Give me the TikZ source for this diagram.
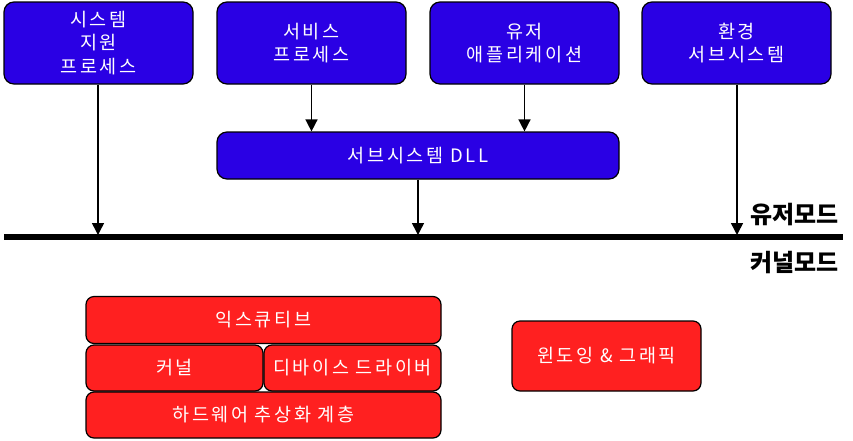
\documentclass[tikz,border=0pt]{standalone}
\usepackage{fontspec}
\setmainfont{Noto Sans CJK KR}
\newfontfamily\krtext[LetterSpace=14]{Noto Sans CJK KR}
\usetikzlibrary{arrows.meta}
\definecolor{boxblue}{RGB}{42,0,228}
\definecolor{boxred}{RGB}{255,32,32}
\tikzset{
  bluebox/.style={draw=black, line width=1.2pt, fill=boxblue, rounded corners=10pt, text=white, font=\krtext\fontsize{18.5}{23.5}\selectfont, align=center, inner sep=0pt},
  redbox/.style={draw=black, line width=1.2pt, fill=boxred, rounded corners=8pt, text=white, font=\krtext\fontsize{18.5}{23}\selectfont, align=center, inner sep=0pt},
  arr/.style={line width=1.5pt, -{Triangle[length=12pt,width=12pt]}},
  modelabel/.style={font=\fontsize{24}{24}\selectfont\bfseries, anchor=east, inner sep=0pt}
}
\begin{document}
\begin{tikzpicture}[x=1pt,y=-1pt]
\useasboundingbox (0,0) rectangle (853,440);
% blue boxes
\node[bluebox, minimum width=189pt, minimum height=82pt] (sp) at (98.5,43) {시스템\\지원\\프로세스};
\node[bluebox, minimum width=189pt, minimum height=82pt] (svc) at (311.5,43) {서비스\\프로세스};
\node[bluebox, minimum width=189pt, minimum height=82pt] (ua) at (524.5,43) {유저\\애플리케이션};
\node[bluebox, minimum width=189pt, minimum height=82pt] (env) at (736.5,43) {환경\\서브시스템};
\node[bluebox, minimum width=402pt, minimum height=47pt] (dll) at (418,155.5) {서브시스템 DLL};
% mode line
\coordinate (L) at (4,237);
\coordinate (R) at (843,237);
\draw[line width=6pt] (L) -- (R);
\coordinate (t1) at (98,235);
\coordinate (t2) at (418,235);
\coordinate (t3) at (737,235);
\draw[arr] (sp.south -| t1) -- (t1);
\draw[arr] (svc.south) -- (svc.south |- dll.north);
\draw[arr] (ua.south) -- (ua.south |- dll.north);
\draw[arr] (dll.south -| t2) -- (t2);
\draw[arr] (env.south -| t3) -- (t3);
\node[modelabel] (um) at (839,215) {유저모드};
\node[modelabel] (km) at (839,263) {커널모드};
% red boxes
\node[redbox, minimum width=355pt, minimum height=47pt] (ex) at (263.5,320) {익스큐티브};
\node[redbox, minimum width=177pt, minimum height=46pt] (kn) at (174.5,368) {커널};
\node[redbox, minimum width=177pt, minimum height=46pt] (dd) at (352.5,368) {디바이스 드라이버};
\node[redbox, minimum width=355pt, minimum height=46pt] (hal) at (263.5,415) {하드웨어 추상화 계층};
\node[redbox, minimum width=189pt, minimum height=70pt] (wg) at (606.5,356) {윈도잉 \& 그래픽};
\end{tikzpicture}
\end{document}
